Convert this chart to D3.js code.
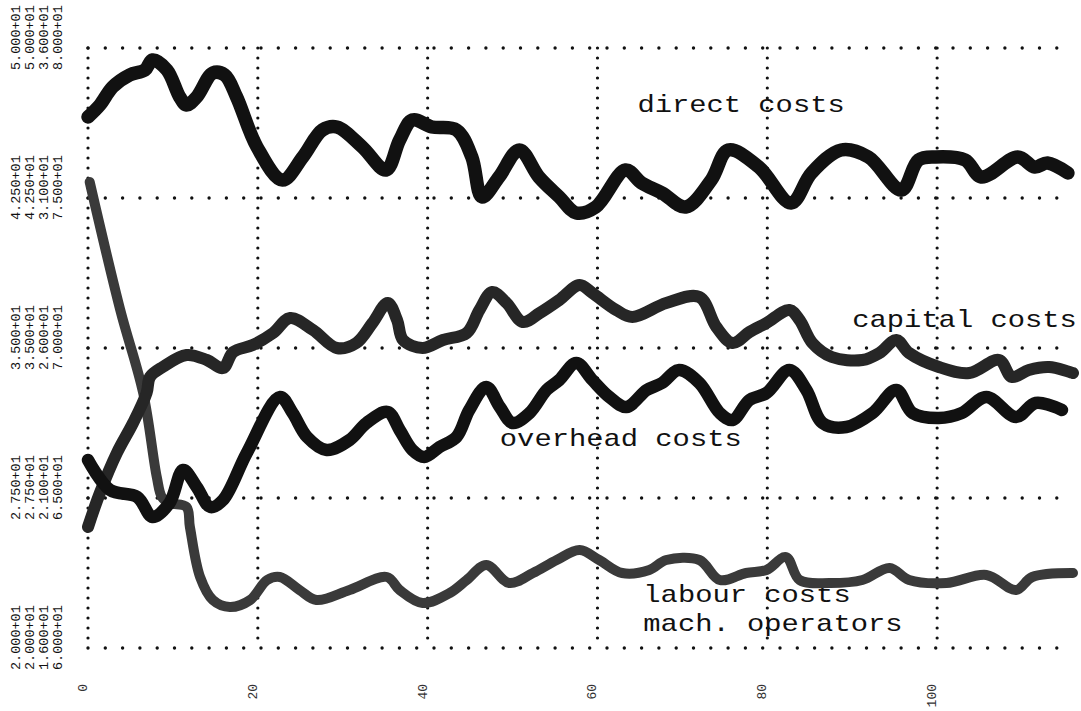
<!DOCTYPE html>
<html>
<head>
<meta charset="utf-8">
<script src="https://cdn.jsdelivr.net/npm/d3@7"></script>
<style>
  body { margin: 0; background: #fff; }
  svg { display: block; }
  .lbl { font-family: "Liberation Mono", "Courier New", monospace; fill: #111; }
</style>
</head>
<body>
<div id="chart"></div>
<script>
// x ticks (bottom, typed sideways)
var xTicks = [0, 20, 40, 60, 80, 100];
var xTickLabels = ["0", "20", "40", "60", "80", "100"];

// y grid rows, in units of the first scale
var yTicks = [20, 27.5, 35, 42.5, 50];

// the four printed scales, one column each
var scaleA = ["2.000+01", "2.750+01", "3.500+01", "4.250+01", "5.000+01"];
var scaleB = ["2.000+01", "2.750+01", "3.500+01", "4.250+01", "5.000+01"];
var scaleC = ["1.600+01", "2.100+01", "2.600+01", "3.100+01", "3.600+01"];
var scaleD = ["6.000+01", "6.500+01", "7.000+01", "7.500+01", "8.000+01"];

// series, [x, y] with y read on the first scale
var directCosts = [
  [0, 46.55], [1.4, 47.15], [2.9, 48.05], [4.9, 48.65], [6.7, 48.9], [7.6, 49.4],
  [9.3, 48.9], [10.8, 47.55], [11.6, 47.15], [12.8, 47.55], [14.7, 48.75], [16.1, 48.65],
  [17.5, 47.55], [19.9, 45.05], [22.9, 43.4], [25.3, 44.55], [27.6, 45.9], [29.3, 46.05],
  [32.3, 45.05], [35.1, 43.9], [36.7, 45.4], [38.2, 46.4], [40.5, 46.05], [43.4, 45.9],
  [45.2, 44.55], [46.4, 42.55], [48.4, 43.55], [50.8, 44.9], [53.1, 43.55], [55.5, 42.55],
  [57.5, 41.75], [59.8, 42.05], [63.3, 43.9], [65.2, 43.25], [67.6, 42.75], [70.4, 42.05],
  [73.4, 43.4], [75.4, 44.9], [79.0, 44.05], [82.8, 42.25], [85.2, 43.75], [88.7, 44.9],
  [91.9, 44.55], [95.8, 42.9], [97.8, 44.4], [99.8, 44.55], [103.3, 44.4], [105.2, 43.55],
  [109.5, 44.55], [111.5, 44.05], [113.0, 44.25], [115.4, 43.75]
];

var capitalCosts = [
  [0, 26.05], [1.4, 27.75], [3.4, 29.75], [5.3, 31.25], [6.9, 32.75], [7.3, 33.55],
  [8.8, 34.05], [11.6, 34.65], [14.0, 34.4], [15.9, 34.0], [17.1, 34.8], [19.4, 35.15],
  [21.8, 35.75], [23.8, 36.5], [26.5, 35.9], [29.3, 35.0], [31.6, 35.25], [33.5, 36.25],
  [35.3, 37.25], [36.4, 36.4], [37.1, 35.4], [39.4, 35.0], [41.8, 35.4], [44.6, 35.75],
  [46.1, 36.9], [47.6, 37.8], [49.3, 37.25], [51.2, 36.3], [53.2, 36.75], [55.5, 37.4],
  [57.9, 38.15], [59.4, 37.75], [62.2, 36.9], [64.1, 36.55], [68.1, 37.25], [72.0, 37.55],
  [74.0, 36.05], [75.9, 35.25], [77.9, 35.8], [79.9, 36.25], [82.6, 36.9], [83.8, 36.4],
  [85.3, 35.25], [87.6, 34.55], [91.2, 34.4], [93.2, 34.75], [95.2, 35.4], [96.7, 34.75],
  [100.2, 34.05], [103.8, 33.75], [107.3, 34.4], [108.8, 33.55], [110.8, 33.9], [113.2, 34.05],
  [116.0, 33.75]
];

var overheadCosts = [
  [0, 29.4], [2.6, 27.9], [5.8, 27.55], [7.6, 26.55], [9.6, 27.25], [11.2, 28.9],
  [12.8, 28.05], [14.4, 27.05], [15.9, 27.4], [18.7, 29.75], [22.6, 32.55], [24.1, 31.75],
  [25.8, 30.55], [28.1, 29.9], [30.8, 30.4], [32.8, 31.25], [35.3, 31.8], [36.7, 30.9],
  [38.2, 29.9], [39.6, 29.55], [41.4, 30.05], [43.4, 30.55], [44.9, 31.9], [46.9, 33.05],
  [48.5, 32.05], [50.0, 31.25], [52.0, 31.75], [54.0, 32.9], [55.5, 33.4], [57.5, 34.25],
  [59.4, 33.4], [61.4, 32.55], [63.4, 32.05], [65.8, 32.9], [67.6, 33.25], [69.6, 33.9],
  [72.0, 33.25], [74.4, 31.75], [75.9, 31.4], [77.9, 32.4], [79.9, 32.75], [82.6, 33.9],
  [84.6, 32.9], [86.5, 31.25], [89.3, 31.05], [92.4, 31.75], [95.2, 32.9], [97.1, 31.75],
  [100.2, 31.5], [102.9, 31.75], [105.8, 32.55], [109.3, 31.55], [111.6, 32.25], [114.7, 31.9]
];

var labourCosts = [
  [0.2, 43.3], [3.8, 36.9], [6.5, 32.75], [8.1, 28.55], [8.7, 27.55], [9.6, 27.25],
  [11.6, 27.05], [12.0, 26.05], [13.2, 23.55], [14.7, 22.4], [16.7, 22.05], [19.1, 22.4],
  [21.1, 23.4], [22.6, 23.55], [24.9, 22.9], [26.9, 22.4], [30.8, 22.9], [35.2, 23.55],
  [36.7, 22.9], [39.4, 22.25], [42.6, 22.75], [44.6, 23.4], [46.9, 24.15], [49.6, 23.25],
  [52.4, 23.75], [55.2, 24.4], [57.9, 24.9], [60.2, 24.4], [62.9, 23.75], [66.1, 23.9],
  [68.1, 24.4], [72.0, 24.4], [74.4, 23.4], [77.5, 23.75], [79.9, 23.9], [82.2, 24.55],
  [83.8, 23.4], [87.3, 23.25], [91.2, 23.4], [94.4, 24.0], [96.7, 23.4], [101.1, 23.25],
  [105.8, 23.65], [109.3, 22.9], [111.2, 23.55], [116.0, 23.75]
];

var seriesNames = ["direct costs", "capital costs", "overhead costs", "labour costs", "mach. operators"];

var width = 1081,
    height = 711;

var x = d3.scaleLinear().domain([0, 116]).range([88, 1073]);
var y = d3.scaleLinear().domain([20, 50]).range([648, 48]);
var gridEnd = 114.2;

var svg = d3.select("#chart")
  .append("svg")
  .attr("width", width)
  .attr("height", height);

svg.append("rect")
  .attr("width", width)
  .attr("height", height)
  .style("fill", "#fff");

// labels typed over the plot (drawn first, pen runs over them)
var labels = [
  {text: seriesNames[0], x: 64.7, y: 46.8},
  {text: seriesNames[1], x: 90.0, y: 36.05},
  {text: seriesNames[2], x: 48.5, y: 30.1},
  {text: seriesNames[3], x: 65.4, y: 22.3},
  {text: seriesNames[4], x: 65.4, y: 20.85}
];

// typewriter pitch: 24px mono stretched wide
svg.selectAll("text.series")
  .data(labels)
  .enter()
  .append("text")
  .attr("class", "lbl series")
  .attr("transform", function(d) {
    return "translate(" + x(d.x) + "," + y(d.y) + ")scale(1.2,1)";
  })
  .style("font-size", "24px")
  .text(function(d) { return d.text; });

// dotted grid
var grid = svg.append("g");

grid.selectAll("line.h")
  .data(yTicks)
  .enter()
  .append("line")
  .attr("x1", x(0))
  .attr("x2", x(gridEnd))
  .attr("y1", function(d) { return y(d); })
  .attr("y2", function(d) { return y(d); })
  .style("stroke", "#111")
  .style("stroke-width", 3.4)
  .style("stroke-linecap", "round")
  .style("stroke-dasharray", "0,17.3");

grid.selectAll("line.v")
  .data(xTicks)
  .enter()
  .append("line")
  .attr("x1", function(d) { return x(d); })
  .attr("x2", function(d) { return x(d); })
  .attr("y1", y(50))
  .attr("y2", y(20))
  .style("stroke", "#111")
  .style("stroke-width", 3.2)
  .style("stroke-linecap", "round")
  .style("stroke-dasharray", "0,10");

// left scales: four columns per grid row, typed sideways
var columns = [scaleA, scaleB, scaleC, scaleD];
var colX = [20, 34, 48, 62];

columns.forEach(function(col, ci) {
  svg.selectAll("text.ycol" + ci)
    .data(col)
    .enter()
    .append("text")
    .attr("class", "lbl ycol" + ci)
    .attr("transform", function(d, i) {
      return "translate(" + colX[ci] + "," + (y(yTicks[i]) + 22) + ")rotate(-90)";
    })
    .style("font-size", "13.5px")
    .text(function(d) { return d; });
});

// bottom ticks
svg.selectAll("text.xtick")
  .data(xTicks)
  .enter()
  .append("text")
  .attr("class", "lbl xtick")
  .attr("transform", function(d) {
    return "translate(" + (x(d) - 1) + ",684)rotate(-90)";
  })
  .style("font-size", "13px")
  .style("fill", "#333")
  .attr("text-anchor", "end")
  .text(function(d, i) { return xTickLabels[i]; });

// plotted lines
var line = d3.line()
  .x(function(d) { return x(d[0]); })
  .y(function(d) { return y(d[1]); })
  .curve(d3.curveCatmullRom.alpha(0.5));

var plots = [
  {data: labourCosts, color: "#3a3a3a", w: 10},
  {data: capitalCosts, color: "#262626", w: 12},
  {data: overheadCosts, color: "#111", w: 12.5},
  {data: directCosts, color: "#111", w: 13.5}
];

svg.selectAll("path.series")
  .data(plots)
  .enter()
  .append("path")
  .attr("class", "series")
  .attr("d", function(d) { return line(d.data); })
  .style("fill", "none")
  .style("stroke", function(d) { return d.color; })
  .style("stroke-width", function(d) { return d.w; })
  .style("stroke-linecap", "round")
  .style("stroke-linejoin", "round");
</script>
</body>
</html>
